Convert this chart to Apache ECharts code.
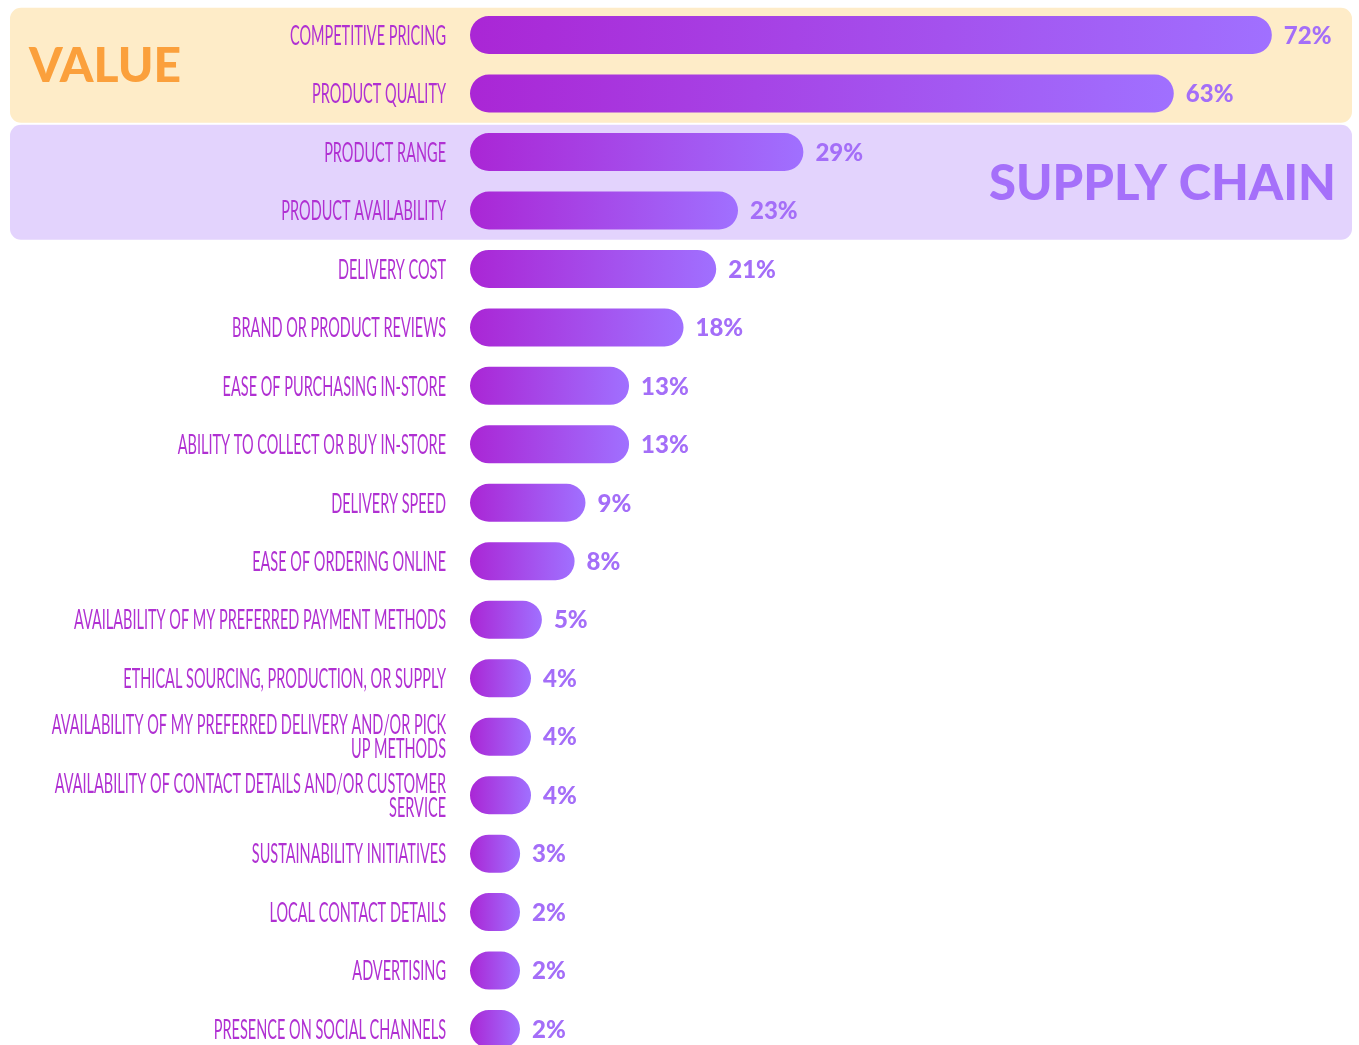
<!DOCTYPE html>
<html><head><meta charset="utf-8">
<script src="https://cdn.jsdelivr.net/npm/echarts@6/dist/echarts.min.js"></script>
<style>html,body{margin:0;padding:0;background:#fff}#c{width:1359px;height:1045px}</style>
</head><body><div id="c"></div>
<script>
const categories = [
  'COMPETITIVE PRICING',
  'PRODUCT QUALITY',
  'PRODUCT RANGE',
  'PRODUCT AVAILABILITY',
  'DELIVERY COST',
  'BRAND OR PRODUCT REVIEWS',
  'EASE OF PURCHASING IN-STORE',
  'ABILITY TO COLLECT OR BUY IN-STORE',
  'DELIVERY SPEED',
  'EASE OF ORDERING ONLINE',
  'AVAILABILITY OF MY PREFERRED PAYMENT METHODS',
  'ETHICAL SOURCING, PRODUCTION, OR SUPPLY',
  'AVAILABILITY OF MY PREFERRED DELIVERY AND/OR PICK\nUP METHODS',
  'AVAILABILITY OF CONTACT DETAILS AND/OR CUSTOMER\nSERVICE',
  'SUSTAINABILITY INITIATIVES',
  'LOCAL CONTACT DETAILS',
  'ADVERTISING',
  'PRESENCE ON SOCIAL CHANNELS'
];
const values = [72, 63, 29, 23, 21, 18, 13, 13, 9, 8, 5, 4, 4, 4, 3, 2, 2, 2];
const groupNames = ['VALUE', 'SUPPLY CHAIN'];
const groupRows = [[0, 1], [2, 3]];

const AXIS_MIN = -1.6, AXIS_MAX = 80;
const BAR_H = 38, MIN_LEN = 50;

const LABEL_FONT = '400 27px Lato';
const LABEL_FAMILY = 'Lato';
// horizontal condensing of the category labels (reference font is a condensed face)
const cv = document.createElement('canvas').getContext('2d');
cv.font = LABEL_FONT;
const LABEL_SCALE = 156 / cv.measureText('COMPETITIVE PRICING').width;

const chart = echarts.init(document.getElementById('c'), null, {renderer: 'canvas'});

function renderItem(params, api) {
  const v = api.value(0), i = api.value(1);
  const start = api.coord([AXIS_MIN, i]);
  const end = api.coord([v, i]);
  const len = Math.max(end[0] - start[0], MIN_LEN);
  const cy = start[1];
  return {
    type: 'group',
    children: [
      {
        type: 'rect',
        shape: {x: start[0], y: cy - BAR_H / 2, width: len, height: BAR_H, r: BAR_H / 2},
        style: {fill: new echarts.graphic.LinearGradient(0, 0, 1, 0, [
          {offset: 0, color: '#aa26d5'}, {offset: 1, color: '#a070ff'}])}
      },
      {
        type: 'text', x: start[0] + len + 12, y: cy + 1,
        style: {text: v + '%', fill: '#a46ef8', fontSize: 24, fontWeight: 900,
          fontFamily: 'Lato', align: 'left', verticalAlign: 'middle'}
      },
      {
        type: 'text', x: start[0] - 24, y: cy + 1, scaleX: LABEL_SCALE,
        style: {text: categories[i], fill: '#b030d2', fontSize: 27, fontWeight: 400,
          fontFamily: LABEL_FAMILY,
          align: 'right', verticalAlign: 'middle', lineHeight: 24}
      }
    ]
  };
}

chart.setOption({
  animation: false,
  grid: {left: 470, top: 5.8, width: 889, height: 1052.5, outerBoundsMode: 'none', containLabel: false},
  xAxis: {type: 'value', min: AXIS_MIN, max: AXIS_MAX, show: false},
  yAxis: {type: 'category', data: categories, inverse: true, show: false},
  series: [{
    type: 'custom', clip: false, renderItem: renderItem,
    data: values.map((v, i) => [v, i]), encode: {x: 0, y: 1}
  }]
});

const y0 = chart.convertToPixel({yAxisIndex: 0}, 0);
const y1 = chart.convertToPixel({yAxisIndex: 0}, 1);
const band = y1 - y0;
const boxFills = ['#feecc8', '#e3d3fd'];
const graphics = [];
groupRows.forEach((rows, g) => {
  const top = chart.convertToPixel({yAxisIndex: 0}, rows[0]) - band / 2 + 2;
  const bot = chart.convertToPixel({yAxisIndex: 0}, rows[1]) + band / 2;
  graphics.push({type: 'rect', z: -10, shape: {x: 10, y: top, width: 1342, height: bot - top, r: 11},
    style: {fill: boxFills[g]}});
  const mid = (top + bot) / 2;
  if (g === 0) {
    graphics.push({type: 'text', z: -5, x: 29, y: mid + 1,
      style: {text: groupNames[g], fill: '#fba03c', fontSize: 48, fontWeight: 900, fontFamily: 'Lato',
        verticalAlign: 'middle', align: 'left'}});
  } else {
    graphics.push({type: 'text', z: -5, x: 1336, y: mid + 2,
      style: {text: groupNames[g], fill: '#a570fa', fontSize: 49, fontWeight: 900, fontFamily: 'Lato',
        verticalAlign: 'middle', align: 'right'}});
  }
});
chart.setOption({graphic: graphics});
</script>
</body></html>
